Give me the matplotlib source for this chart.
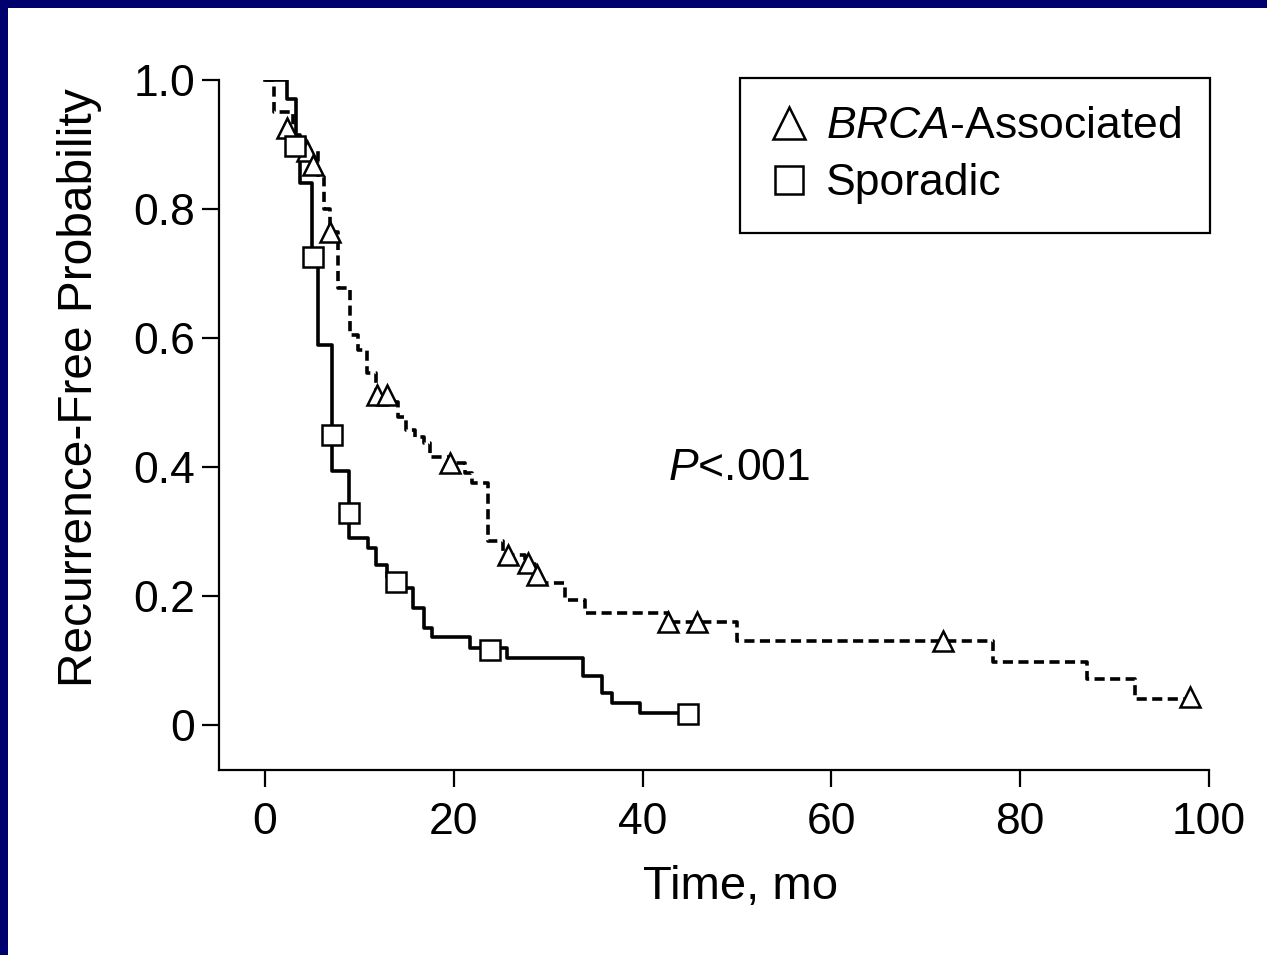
#Kaplan-Meier style plot: recurrence-free probability, BRCA vs sporadic

import matplotlib
matplotlib.use('Agg')
import matplotlib.pyplot as plt
from matplotlib.lines import Line2D
from matplotlib.patches import Rectangle

plt.rcParams['font.family'] = ['Liberation Sans', 'DejaVu Sans']
plt.rcParams['mathtext.fontset'] = 'custom'
plt.rcParams['mathtext.rm'] = 'Liberation Sans'
plt.rcParams['mathtext.it'] = 'Liberation Sans:italic'

#Step data (time in months, survival probability)
brca_t = [0, 1.0, 3.0, 4.2, 5.6, 6.3, 6.9, 7.7, 9.0, 9.9, 10.8, 11.8, 13.0, 14.1, 14.9,
          15.9, 16.8, 17.5, 19.5, 21.2, 21.9, 23.6, 25.2, 27.5, 28.6, 29.5, 31.8, 33.9,
          42.7, 50.0, 77.1, 87.1, 92.2, 98.0]
brca_s = [1.0, 0.95, 0.91, 0.89, 0.85, 0.80, 0.764, 0.677, 0.604, 0.581, 0.546, 0.512,
          0.50, 0.477, 0.457, 0.447, 0.437, 0.416, 0.406, 0.39, 0.375, 0.285, 0.264, 0.25,
          0.233, 0.22, 0.194, 0.173, 0.16, 0.13, 0.098, 0.071, 0.04, 0.04]
brca_cens_t = [2.3, 4.5, 5.1, 6.9, 11.9, 12.9, 19.6, 25.7, 27.9, 28.8, 42.7, 45.8, 71.8, 98.0]
brca_cens_s = [0.925, 0.89, 0.868, 0.764, 0.512, 0.512, 0.406, 0.264, 0.251, 0.233,
               0.16, 0.16, 0.13, 0.043]

spor_t = [0, 2.3, 3.3, 3.7, 5.0, 5.6, 7.1, 8.9, 10.9, 11.8, 12.9, 14.5, 15.7, 16.8,
          17.7, 21.7, 25.6, 33.7, 35.7, 36.8, 39.7, 44.8]
spor_s = [1.0, 0.97, 0.915, 0.84, 0.73, 0.589, 0.393, 0.29, 0.274, 0.248, 0.229, 0.212,
          0.181, 0.150, 0.137, 0.119, 0.104, 0.075, 0.049, 0.034, 0.019, 0.019]
spor_cens_t = [3.2, 5.1, 7.1, 8.9, 13.9, 23.8, 44.8]
spor_cens_s = [0.898, 0.726, 0.45, 0.329, 0.222, 0.116, 0.017]

xticks = [0, 20, 40, 60, 80, 100]
yticks = [0, 0.2, 0.4, 0.6, 0.8, 1.0]
ytick_labels = ['0', '0.2', '0.4', '0.6', '0.8', '1.0']

#Figure with navy border on top and left
fig = plt.figure(figsize=(12.67, 9.55), dpi=100, facecolor='#00006e')
fig.patches.append(Rectangle((8 / 1267, 0), 1, 1 - 8 / 955, transform=fig.transFigure,
                             facecolor='white', edgecolor='none', zorder=-10))
ax = fig.add_axes([219 / 1267, 1 - 770 / 955, 990 / 1267, 690 / 955])
ax.set_facecolor('none')

#Curves
ax.step(brca_t, brca_s, where='post', color='black', lw=2.6, linestyle=(0, (2.8, 1.5)))
ax.step(spor_t, spor_s, where='post', color='black', lw=2.6)
ax.plot(brca_cens_t, brca_cens_s, '^', ms=14, mfc='white', mec='black', mew=1.8,
        linestyle='none')
ax.plot(spor_cens_t, spor_cens_s, 's', ms=14, mfc='white', mec='black', mew=1.8,
        linestyle='none')

#Axes styling
ax.set_xlim(-4.87, 100)
ax.set_ylim(-0.07, 1.0)
ax.spines['top'].set_visible(False)
ax.spines['right'].set_visible(False)
ax.spines['left'].set_linewidth(1.6)
ax.spines['bottom'].set_linewidth(1.6)
ax.set_xticks(xticks)
ax.set_yticks(yticks)
ax.set_yticklabels(ytick_labels)
ax.tick_params(axis='both', labelsize=32, width=1.6, length=12, direction='out')
ax.tick_params(axis='y', pad=5)
ax.tick_params(axis='x', pad=11)

#Labels
fig.text(80 / 1267, 1 - 388 / 955, 'Recurrence-Free Probability', rotation=90,
         ha='center', va='center', fontsize=34.5)
fig.text(741 / 1267, 1 - 887 / 955, 'Time, mo', ha='center', va='center', fontsize=34)
ax.text(42.7, 0.38, '$P$<.001', fontsize=32, ha='left', va='baseline')

#Legend
handles = [Line2D([], [], marker='^', ms=23, mfc='white', mec='black', mew=1.8,
                  linestyle='none'),
           Line2D([], [], marker='s', ms=20, mfc='white', mec='black', mew=1.8,
                  linestyle='none')]
leg = ax.legend(handles, ['$BRCA$-Associated', 'Sporadic'], loc='upper right',
                bbox_to_anchor=(1210 / 1267, 1 - 78 / 955), bbox_transform=fig.transFigure,
                borderaxespad=0, fontsize=32, fancybox=False, framealpha=1,
                edgecolor='black', labelspacing=0.36, borderpad=0.64,
                handlelength=0.9, handletextpad=0.4)
leg.get_frame().set_linewidth(1.6)

fig.savefig('out.png', dpi=100, facecolor=fig.get_facecolor())
